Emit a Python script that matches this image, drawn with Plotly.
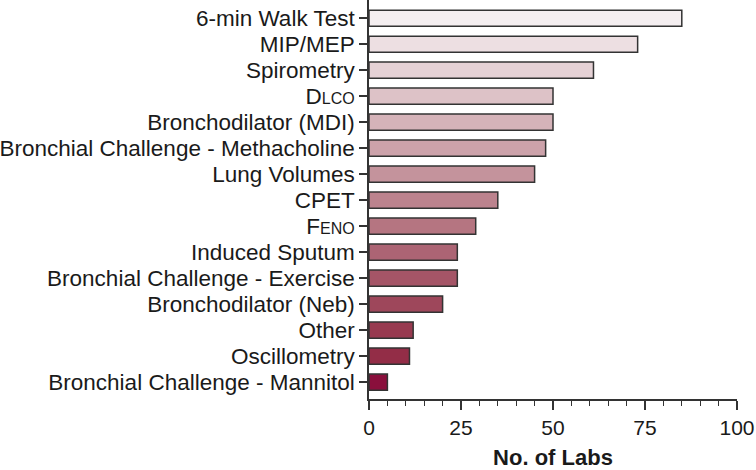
import plotly.graph_objects as go

categories = [
    "6-min Walk Test", "MIP/MEP", "Spirometry", "D<span style='font-size:16px'>LCO</span>",
    "Bronchodilator (MDI)", "Bronchial Challenge - Methacholine", "Lung Volumes", "CPET",
    "F<span style='font-size:16px'>ENO</span>", "Induced Sputum", "Bronchial Challenge - Exercise",
    "Bronchodilator (Neb)", "Other", "Oscillometry", "Bronchial Challenge - Mannitol",
]
labs = [85, 73, 61, 50, 50, 48, 45, 35, 29, 24, 24, 20, 12, 11, 5]

bar_colors = [
    "#f4eef0", "#eddfe2", "#e5d1d5", "#ddc2c7", "#d5b3b9", "#cca2aa", "#c4939c", "#bc838e",
    "#b57581", "#ac6474", "#a55567", "#9e475b", "#983a50", "#932d47", "#8a0f3c",
]

fig = go.Figure(go.Bar(
    y=categories, x=labs, orientation="h",
    marker=dict(color=bar_colors, line=dict(color="#333333", width=1.5)),
    width=0.62,
))

font_family = "Liberation Sans, Arial, Helvetica, sans-serif"
fig.update_layout(
    width=756, height=470,
    margin=dict(l=369, r=19, t=0, b=71),
    plot_bgcolor="white", paper_bgcolor="white",
    font=dict(family=font_family, color="#1a1a1a", size=22.5),
    showlegend=False,
    xaxis=dict(
        range=[0, 100], tickvals=[0, 25, 50, 75, 100],
        showgrid=False, zeroline=False,
        showline=True, linecolor="#333333", linewidth=1.5,
        ticks="outside", ticklen=9, tickwidth=1.5, tickcolor="#333333",
        minor=dict(dtick=5, ticks="outside", ticklen=5, tickwidth=1.2, tickcolor="#333333"),
        tickfont=dict(size=21),
        title=dict(text="<b>No. of Labs</b>", font=dict(size=22), standoff=12),
    ),
    yaxis=dict(
        autorange=False, range=[14.65, -0.7],
        tickmode="array", tickvals=categories, ticktext=categories,
        showgrid=False, zeroline=False,
        showline=True, linecolor="#333333", linewidth=1.5,
        ticks="outside", ticklen=8, tickwidth=1.5, tickcolor="#333333",
        tickfont=dict(size=22.5),
    ),
)

fig.write_html(
    "out.html",
    config={"displayModeBar": False},
    post_script="document.body.style.margin='0';document.body.style.overflow='hidden';",
)
